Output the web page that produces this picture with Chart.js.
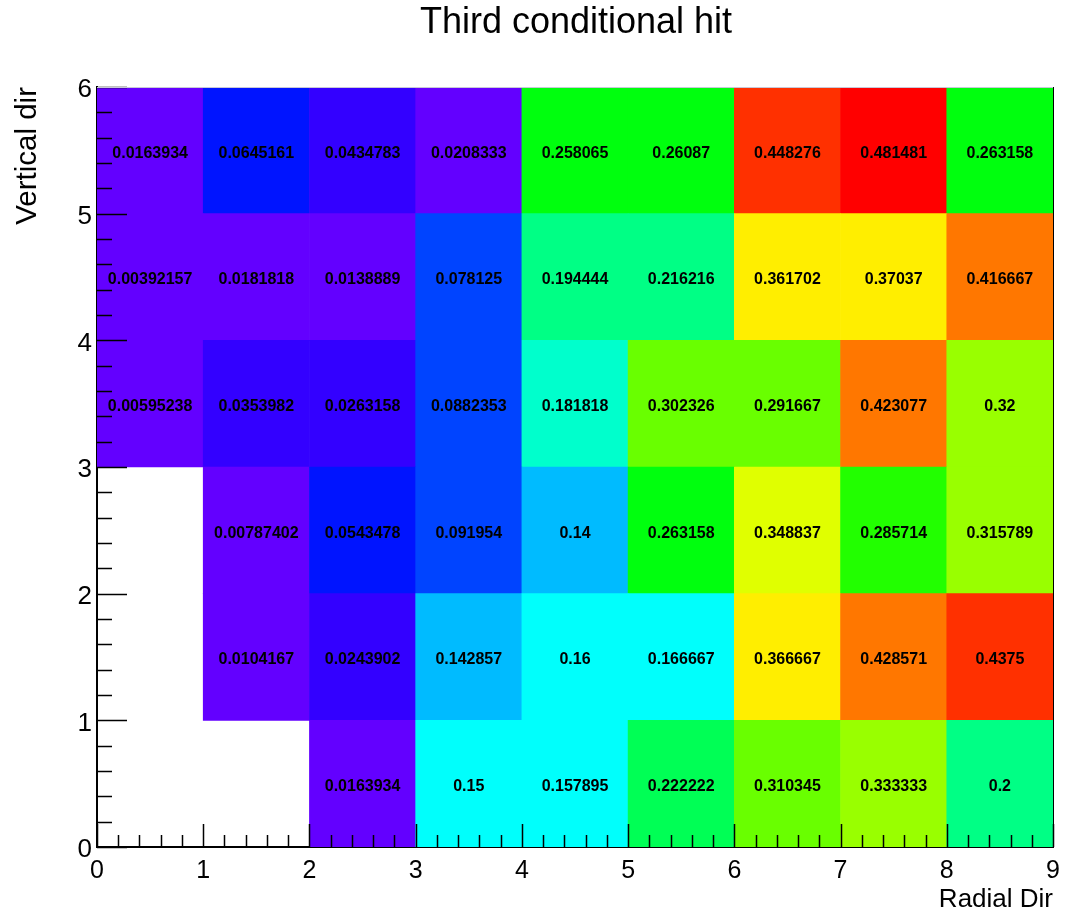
<!DOCTYPE html>
<html>
<head>
<meta charset="utf-8">
<title>Third conditional hit</title>
<script src="https://cdn.jsdelivr.net/npm/chart.js@4.4.1/dist/chart.umd.min.js"></script>
<style>
  body { margin: 0; background: #fff; }
  #wrap { width: 1071px; height: 915px; }
</style>
</head>
<body>
<div id="wrap"><canvas id="hitChart" width="1071" height="915"></canvas></div>
<script>
// Radial bin centres (x) and vertical bin lower edges (y)
const radialBins = [0.5, 1.5, 2.5, 3.5, 4.5, 5.5, 6.5, 7.5, 8.5];
const verticalBins = [0, 1, 2, 3, 4, 5];

// Hit fraction per vertical row, left to right; null = empty bin
const row0 = [null, null, 0.0163934, 0.15, 0.157895, 0.222222, 0.310345, 0.333333, 0.2];
const row1 = [null, 0.0104167, 0.0243902, 0.142857, 0.16, 0.166667, 0.366667, 0.428571, 0.4375];
const row2 = [null, 0.00787402, 0.0543478, 0.091954, 0.14, 0.263158, 0.348837, 0.285714, 0.315789];
const row3 = [0.00595238, 0.0353982, 0.0263158, 0.0882353, 0.181818, 0.302326, 0.291667, 0.423077, 0.32];
const row4 = [0.00392157, 0.0181818, 0.0138889, 0.078125, 0.194444, 0.216216, 0.361702, 0.37037, 0.416667];
const row5 = [0.0163934, 0.0645161, 0.0434783, 0.0208333, 0.258065, 0.26087, 0.448276, 0.481481, 0.263158];
const rows = [row0, row1, row2, row3, row4, row5];

const xTicks = [0, 1, 2, 3, 4, 5, 6, 7, 8, 9];
const yTicks = [0, 1, 2, 3, 4, 5, 6];

const FONT = "'Liberation Sans', Arial, Helvetica, sans-serif";

// z range for the colour scale
const zMin = 0;
const zMax = Math.max(...rows.flat().filter(v => v != null));

// Violet -> red rainbow, 50 colours, 20 contour levels
function paletteColor(v) {
  const ndivz = 20, ncolors = 50;
  const level = Math.floor(0.01 + (v - zMin) * ndivz / (zMax - zMin));
  let idx = Math.floor((level + 0.99) * ncolors / ndivz);
  if (idx > ncolors - 1) idx = ncolors - 1;
  const hue = idx < ncolors - 1 ? 280 - (idx + 1) * 280 / ncolors : 0;
  return 'hsl(' + hue + ',100%,50%)';
}

function formatValue(v) {
  return String(Number(v.toPrecision(6)));
}

// one floating-bar dataset per vertical row
const datasets = verticalBins.map((lo, r) => ({
  label: 'row ' + lo,
  data: radialBins
    .map((x, i) => ({ x: x, y: [lo, lo + 1], v: rows[r][i] }))
    .filter(d => d.v != null),
  backgroundColor: ctx => paletteColor(ctx.raw.v),
  borderWidth: 0,
  borderSkipped: false,
  barPercentage: 1,
  categoryPercentage: 1,
  grouped: false
}));

// bin contents written in the middle of each cell
const cellText = {
  id: 'cellText',
  afterDatasetsDraw(chart) {
    const ctx = chart.ctx;
    ctx.save();
    ctx.fillStyle = '#000';
    ctx.font = 'bold 16px ' + FONT;
    ctx.textAlign = 'center';
    ctx.textBaseline = 'middle';
    chart.data.datasets.forEach((ds, di) => {
      chart.getDatasetMeta(di).data.forEach((bar, j) => {
        const c = bar.getCenterPoint();
        ctx.fillText(formatValue(ds.data[j].v), c.x, c.y + 3);
      });
    });
    ctx.restore();
  }
};

// inward major/minor tick marks, frame and title
const frameDecor = {
  id: 'frameDecor',
  afterDraw(chart) {
    const ctx = chart.ctx;
    const xs = chart.scales.x, ys = chart.scales.y;
    const a = chart.chartArea;
    ctx.save();
    ctx.strokeStyle = '#000';
    ctx.lineWidth = 1.5;
    ctx.beginPath();
    for (let k = 0; k <= 45; k++) {
      const px = Math.round(xs.getPixelForValue(k / 5)) + 0.5;
      const len = k % 5 === 0 ? 23 : 12;
      ctx.moveTo(px, a.bottom);
      ctx.lineTo(px, a.bottom - len);
    }
    for (let k = 0; k <= 30; k++) {
      const py = Math.round(ys.getPixelForValue(k / 5)) + 0.5;
      const len = k % 5 === 0 ? 30 : 15;
      ctx.moveTo(a.left, py);
      ctx.lineTo(a.left + len, py);
    }
    ctx.stroke();
    ctx.lineWidth = 1;
    ctx.beginPath();
    ctx.moveTo(Math.round(a.right) + 0.5, a.top);
    ctx.lineTo(Math.round(a.right) + 0.5, a.bottom);
    ctx.stroke();
    ctx.strokeStyle = '#c8c8d8';
    ctx.beginPath();
    ctx.moveTo(a.left, Math.round(a.top) + 0.5);
    ctx.lineTo(a.right, Math.round(a.top) + 0.5);
    ctx.stroke();

    ctx.fillStyle = '#000';
    ctx.font = '36px ' + FONT;
    ctx.textAlign = 'center';
    ctx.textBaseline = 'alphabetic';
    ctx.fillText('Third conditional hit', 576, 33);
    ctx.restore();
  }
};

new Chart(document.getElementById('hitChart'), {
  type: 'bar',
  data: { datasets: datasets },
  options: {
    responsive: false,
    animation: false,
    devicePixelRatio: 1,
    layout: { padding: { top: 87, right: 18, left: 0, bottom: 0 } },
    plugins: {
      legend: { display: false },
      tooltip: { enabled: false },
      title: { display: false }
    },
    scales: {
      x: {
        type: 'linear',
        min: 0,
        max: 9,
        offset: false,
        afterBuildTicks: s => { s.ticks = xTicks.map(v => ({ value: v })); },
        afterFit: s => { s.height = 68; },
        ticks: {
          color: '#000',
          font: { family: FONT, size: 25 },
          padding: 9,
          maxRotation: 0,
          autoSkip: false,
          callback: v => String(v)
        },
        grid: { display: false, drawTicks: false },
        border: { display: true, color: '#000', width: 2 },
        title: {
          display: true,
          text: 'Radial Dir',
          align: 'end',
          color: '#000',
          font: { family: FONT, size: 26 },
          padding: { top: 0, bottom: 0 }
        }
      },
      y: {
        type: 'linear',
        min: 0,
        max: 6,
        afterBuildTicks: s => { s.ticks = yTicks.map(v => ({ value: v })); },
        afterFit: s => { s.width = 97; },
        ticks: {
          color: '#000',
          font: { family: FONT, size: 26 },
          padding: 5,
          labelOffset: 3,
          autoSkip: false,
          callback: v => String(v)
        },
        grid: { display: false, drawTicks: false },
        border: { display: true, color: '#000', width: 2 },
        title: {
          display: true,
          text: 'Vertical dir',
          align: 'end',
          color: '#000',
          font: { family: FONT, size: 29.5 },
          padding: { top: 10, bottom: 0 }
        }
      }
    }
  },
  plugins: [cellText, frameDecor]
});
</script>
</body>
</html>
